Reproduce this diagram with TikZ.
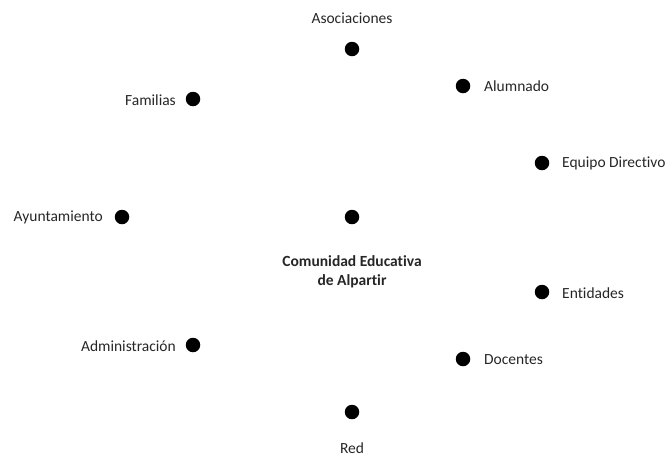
\documentclass[tikz,border=0pt]{standalone}
\usepackage{fontspec}
\setmainfont{Carlito}[Ligatures={NoCommon}]
\begin{document}
\begin{tikzpicture}[x=1pt,y=-1pt,
  dot/.style={circle,fill=black,inner sep=0pt,minimum size=14.5pt},
  lbl/.style={font=\fontsize{15.5}{19}\selectfont,text=black!85,inner sep=0pt}]
\useasboundingbox (0,0) rectangle (669,456);
\node[dot] (aso) at (352,49) {};
\node[dot] (alu) at (463,86) {};
\node[dot] (fam) at (193,99) {};
\node[dot] (equ) at (542,163) {};
\node[dot] (ayu) at (122,217) {};
\node[dot] (com) at (352,217) {};
\node[dot] (ent) at (542,292) {};
\node[dot] (adm) at (193,345) {};
\node[dot] (doc) at (463,359) {};
\node[dot] (red) at (352,412) {};
\node[lbl] (laso) at (352,18) {Asociaciones};
\node[lbl,anchor=west] (lalu) at (484,86) {Alumnado};
\node[lbl,anchor=east] (lfam) at (176,100) {Familias};
\node[lbl,anchor=west] (lequ) at (562,163) {Equipo Directivo};
\node[lbl,anchor=east] (layu) at (103,217) {Ayuntamiento};
\node[lbl,font=\fontsize{15.5}{19}\selectfont\bfseries,align=center] (lcom) at (352,272) {Comunidad Educativa\\de Alpartir};
\node[lbl,anchor=west] (lent) at (562,293) {Entidades};
\node[lbl,anchor=east] (ladm) at (176,346) {Administración};
\node[lbl,anchor=west] (ldoc) at (484,360) {Docentes};
\node[lbl] (lred) at (352,448) {Red};
\end{tikzpicture}
\end{document}
